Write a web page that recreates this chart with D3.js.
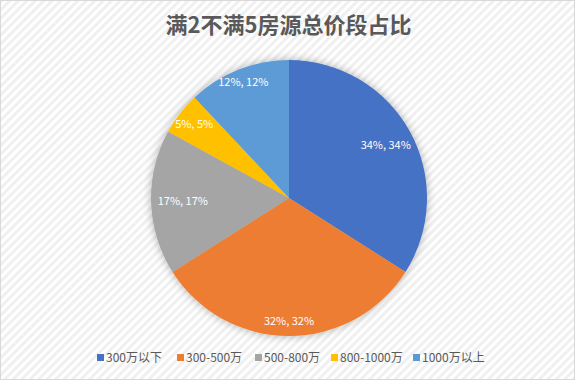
<!DOCTYPE html>
<html>
<head>
<meta charset="utf-8">
<script src="https://cdn.jsdelivr.net/npm/d3@7"></script>
<style>
  body { margin: 0; background: #fff; }
  svg text { font-family: "Noto Sans CJK SC", "Microsoft YaHei", sans-serif; }
</style>
</head>
<body>
<div id="chart"></div>
<script>
var width = 575;
var height = 380;

// data
var categories = ["300万以下", "300-500万", "500-800万", "800-1000万", "1000万以上"];
var shares = [34, 32, 17, 5, 12];
var colors = ["#4472C4", "#ED7D31", "#A5A5A5", "#FFC000", "#5B9BD5"];
var title = "满2不满5房源总价段占比";

var cx = 289, cy = 198, radius = 138;
// label distance from centre, as a share of the radius (excel "best fit")
var labelPos = [0.80, 0.89, 0.77, 0.87, 0.90];

var svg = d3.select("#chart").append("svg")
	.attr("width", width)
	.attr("height", height);

var defs = svg.append("defs");

// light diagonal stripe background
var pat = defs.append("pattern")
	.attr("id", "stripes")
	.attr("patternUnits", "userSpaceOnUse")
	.attr("width", 6).attr("height", 6)
	.attr("patternTransform", "rotate(45)");
pat.append("rect").attr("width", 6).attr("height", 6).attr("fill", "#ffffff");
pat.append("rect").attr("width", 3).attr("height", 6).attr("fill", "#f0f0f0");

var shadow = defs.append("filter")
	.attr("id", "shadow")
	.attr("x", "-20%").attr("y", "-20%")
	.attr("width", "140%").attr("height", "140%");
shadow.append("feDropShadow")
	.attr("dx", 0).attr("dy", 0)
	.attr("stdDeviation", 4)
	.attr("flood-color", "#000")
	.attr("flood-opacity", 0.3);

svg.append("rect")
	.attr("x", 0.5).attr("y", 0.5)
	.attr("width", width - 1).attr("height", height - 1)
	.attr("fill", "url(#stripes)")
	.attr("stroke", "#d9d9d9");

svg.append("text")
	.attr("x", width / 2 + 1)
	.attr("y", 33)
	.attr("text-anchor", "middle")
	.style("font-size", "22px")
	.style("font-weight", "bold")
	.style("fill", "#595959")
	.text(title);

var pie = d3.pie().sort(null).value(function(d) { return d; });
var arcs = pie(shares);

var arc = d3.arc().innerRadius(0).outerRadius(radius);

var g = svg.append("g")
	.attr("transform", "translate(" + cx + "," + cy + ")");

g.append("g")
	.attr("filter", "url(#shadow)")
	.selectAll("path").data(arcs)
	.enter().append("path")
	.attr("d", arc)
	.attr("fill", function(d, i) { return colors[i]; });

g.selectAll(".lbl").data(arcs)
	.enter().append("text")
	.attr("class", "lbl")
	.attr("transform", function(d, i) {
		var r = radius * labelPos[i];
		var c = d3.arc().innerRadius(r).outerRadius(r).centroid(d);
		return "translate(" + c + ")";
	})
	.attr("text-anchor", "middle")
	.attr("dy", "0.35em")
	.style("font-size", "11px")
	.style("fill", "#ffffff")
	.text(function(d) { return d.data + "%, " + d.data + "%"; });

// legend
var legendX = [97, 177, 255, 331, 413];
var legend = svg.append("g").selectAll("g").data(categories)
	.enter().append("g")
	.attr("transform", function(d, i) { return "translate(" + legendX[i] + ",358)"; });

legend.append("rect")
	.attr("x", 0).attr("y", -4)
	.attr("width", 7).attr("height", 7)
	.attr("fill", function(d, i) { return colors[i]; });

legend.append("text")
	.attr("x", 9)
	.attr("y", 0)
	.attr("dy", "0.35em")
	.style("font-size", "12px")
	.style("fill", "#595959")
	.text(function(d) { return d; });
</script>
</body>
</html>
